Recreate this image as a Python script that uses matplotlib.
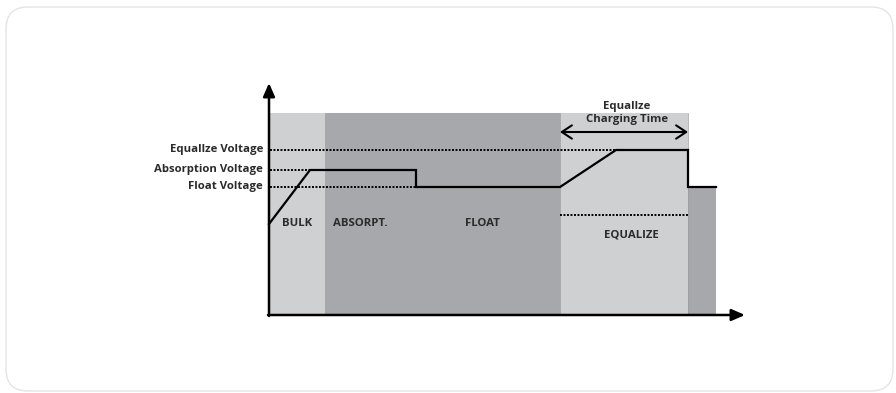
import matplotlib
matplotlib.use("Agg")
import matplotlib.pyplot as plt
from matplotlib.patches import FancyBboxPatch, Rectangle

# ---- data ----
phase_labels = ["BULK", "ABSORPT.", "FLOAT", "EQUALIZE"]
shade_starts = [0.0, 5.6, 29.1, 41.9]
shade_ends = [5.6, 29.1, 41.9, 44.7]
shade_tops = [20.2, 20.2, 20.2, 12.8]
shade_kinds = ["light", "dark", "light", "dark"]

level_names = ["Equallze Voltage", "Absorption Voltage", "Float Voltage"]
level_values = [16.5, 14.5, 12.8]
level_dot_ends = [41.9, 4.1, 14.7]

curve_t = [0.0, 4.1, 14.7, 14.7, 29.1, 34.7, 41.9, 41.9, 44.7]
curve_v = [9.1, 14.5, 14.5, 12.8, 12.8, 16.5, 16.5, 12.8, 12.8]

eq_low_level = 10.0
eq_span = [29.1, 41.9]
eq_title = "Equallze\nCharging Time"

x_axis_end = 47.6
y_axis_end = 23.2

# ---- styles ----
LIGHT = "#cfd0d2"
DARK = "#a7a8ab"
TXT = "#2b2b2b"
FONT = ["Open Sans", "DejaVu Sans"]
FS = 8.2

fig = plt.figure(figsize=(8.96, 3.93), dpi=100)
fig.patch.set_facecolor("white")

# card
card = FancyBboxPatch((6, 2), 887, 384, boxstyle="round,pad=0,rounding_size=22",
                      transform=None, facecolor="white", edgecolor="#e4e4e4",
                      linewidth=1.0, zorder=-5)
fig.patches.append(card)

ax = fig.add_axes([0, 0, 1, 1])
ax.set_zorder(1)
ax.set_xlim(-26.9, 62.7)
ax.set_ylim(-7.8, 31.5)
ax.axis("off")
ax.patch.set_alpha(0)

# shaded phases
for s, e, top, k in zip(shade_starts, shade_ends, shade_tops, shade_kinds):
    ax.add_patch(Rectangle((s, 0), e - s, top, facecolor=LIGHT if k == "light" else DARK,
                           edgecolor="none", zorder=1))
# thin separators on equalize box
for xb in eq_span:
    ax.plot([xb, xb], [0, shade_tops[0]], color="#9a9b9e", lw=0.5, zorder=1.5)

# dotted voltage levels
dots = (0, (1.0, 0.8))
for name, lv, xe in zip(level_names, level_values, level_dot_ends):
    ax.plot([0.1, xe], [lv, lv], color="black", lw=1.4, linestyle=dots, zorder=2)
    ax.text(-0.6, lv + 0.05, name, ha="right", va="center", fontsize=FS,
            fontweight="bold", color=TXT, family=FONT)
ax.plot(eq_span, [eq_low_level, eq_low_level], color="black", lw=1.4,
        linestyle=dots, zorder=2)

# charging curve
ax.plot(curve_t, curve_v, color="black", lw=1.6, solid_joinstyle="miter", zorder=3)

# phase labels
label_x = [2.8, 9.1, 21.3, 36.2]
label_y = [9.2, 9.2, 9.2, 8.0]
for lab, lx, ly in zip(phase_labels, label_x, label_y):
    ax.text(lx, ly, lab, ha="center", va="center", fontsize=FS, fontweight="bold",
            color=TXT, family=FONT)

# equalize charging time arrow
ax.annotate("", xy=(eq_span[1], 18.3), xytext=(eq_span[0], 18.3),
            arrowprops=dict(arrowstyle="<->,head_length=0.45,head_width=0.3",
                            lw=1.5, color="black", shrinkA=0, shrinkB=0,
                            mutation_scale=16), zorder=4)
ax.text(35.8, 20.2, eq_title, ha="center", va="center", fontsize=FS,
        fontweight="bold", color=TXT, family=FONT, linespacing=1.2)

# axes arrows
ap = dict(arrowstyle="-|>,head_length=0.8,head_width=0.35", lw=1.8, color="black",
          shrinkA=0, shrinkB=0, mutation_scale=10)
ax.annotate("", xy=(x_axis_end, 0), xytext=(-0.1, 0), arrowprops=ap, zorder=5)
ax.annotate("", xy=(0, y_axis_end), xytext=(0, -0.1), arrowprops=ap, zorder=5)

fig.savefig("out.png", dpi=100, facecolor="white")
